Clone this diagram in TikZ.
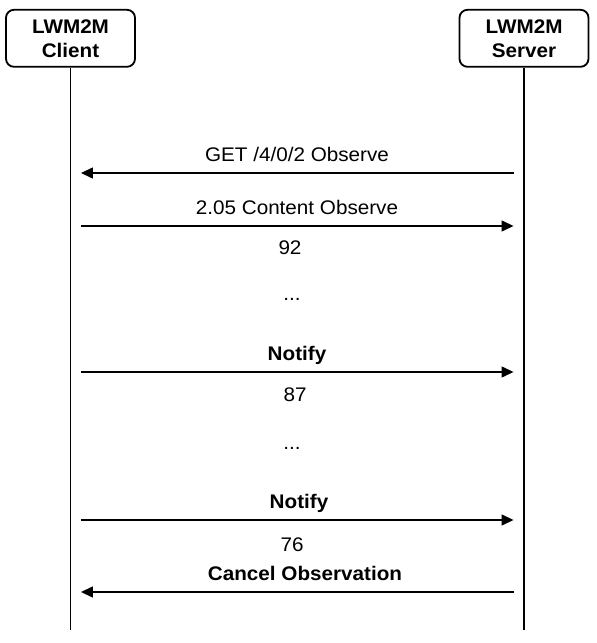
\documentclass[tikz,border=0pt]{standalone}
\usepackage{fontspec}
\setmainfont{Liberation Sans}[FakeStretch=1.05]
\usetikzlibrary{arrows.meta,positioning}

\begin{document}
\begin{tikzpicture}
 \tikzstyle{party}=[draw,line width=1.3pt,rounded corners=0.2cm,minimum
 width=3.225cm,minimum height=1.425cm,align=center,font=\bfseries\fontsize{14}{17}\selectfont]
 \tikzstyle{life}=[line width=1.3pt]
 \tikzstyle{msg}=[line width=1.3pt,-{Triangle[length=0.3cm,width=0.27cm]},
 shorten >=0.26cm,shorten <=0.26cm]
 \tikzstyle{lbl}=[anchor=base,inner sep=0pt,font=\fontsize{14}{17}\selectfont]
\useasboundingbox (0,0) rectangle (14.925,16.075);
\node[party] (client) at (1.7625,15.1175) {LWM2M\\Client};
\node[party] (server) at (13.1,15.1175) {LWM2M\\Server};
\coordinate (cend) at (1.7625,0.325);
\coordinate (send) at (13.1,0.325);
\draw[life] (client) -- (cend);
\draw[life] (server) -- (send);
\foreach \n/\y in {1/11.75,2/10.425,3/6.775,4/3.075,5/1.275}
 {\coordinate (c\n) at (1.7625,\y);
  \coordinate (s\n) at (13.1,\y);}
\draw[msg] (s1) -- (c1);
\draw[msg] (c2) -- (s2);
\draw[msg] (c3) -- (s3);
\draw[msg] (c4) -- (s4);
\draw[msg] (s5) -- (c5);
\node[lbl] (get) at (7.425,12.025) {GET /4/0/2 Observe};
\node[lbl] (content) at (7.425,10.7) {2.05 Content Observe};
\node[lbl] (v92) at (7.25,9.7) {92};
\node[lbl] (dotsa) at (7.3,8.55) {...};
\node[lbl,font=\bfseries\fontsize{14}{17}\selectfont] (notifya) at (7.425,7.05) {Notify};
\node[lbl] (v87) at (7.375,6.025) {87};
\node[lbl] (dotsb) at (7.3,4.825) {...};
\node[lbl,font=\bfseries\fontsize{14}{17}\selectfont] (notifyb) at (7.475,3.35) {Notify};
\node[lbl] (v76) at (7.3,2.275) {76};
\node[lbl,font=\bfseries\fontsize{14}{17}\selectfont] (cancel) at (7.625,1.55) {Cancel Observation};
\end{tikzpicture}
\end{document}
